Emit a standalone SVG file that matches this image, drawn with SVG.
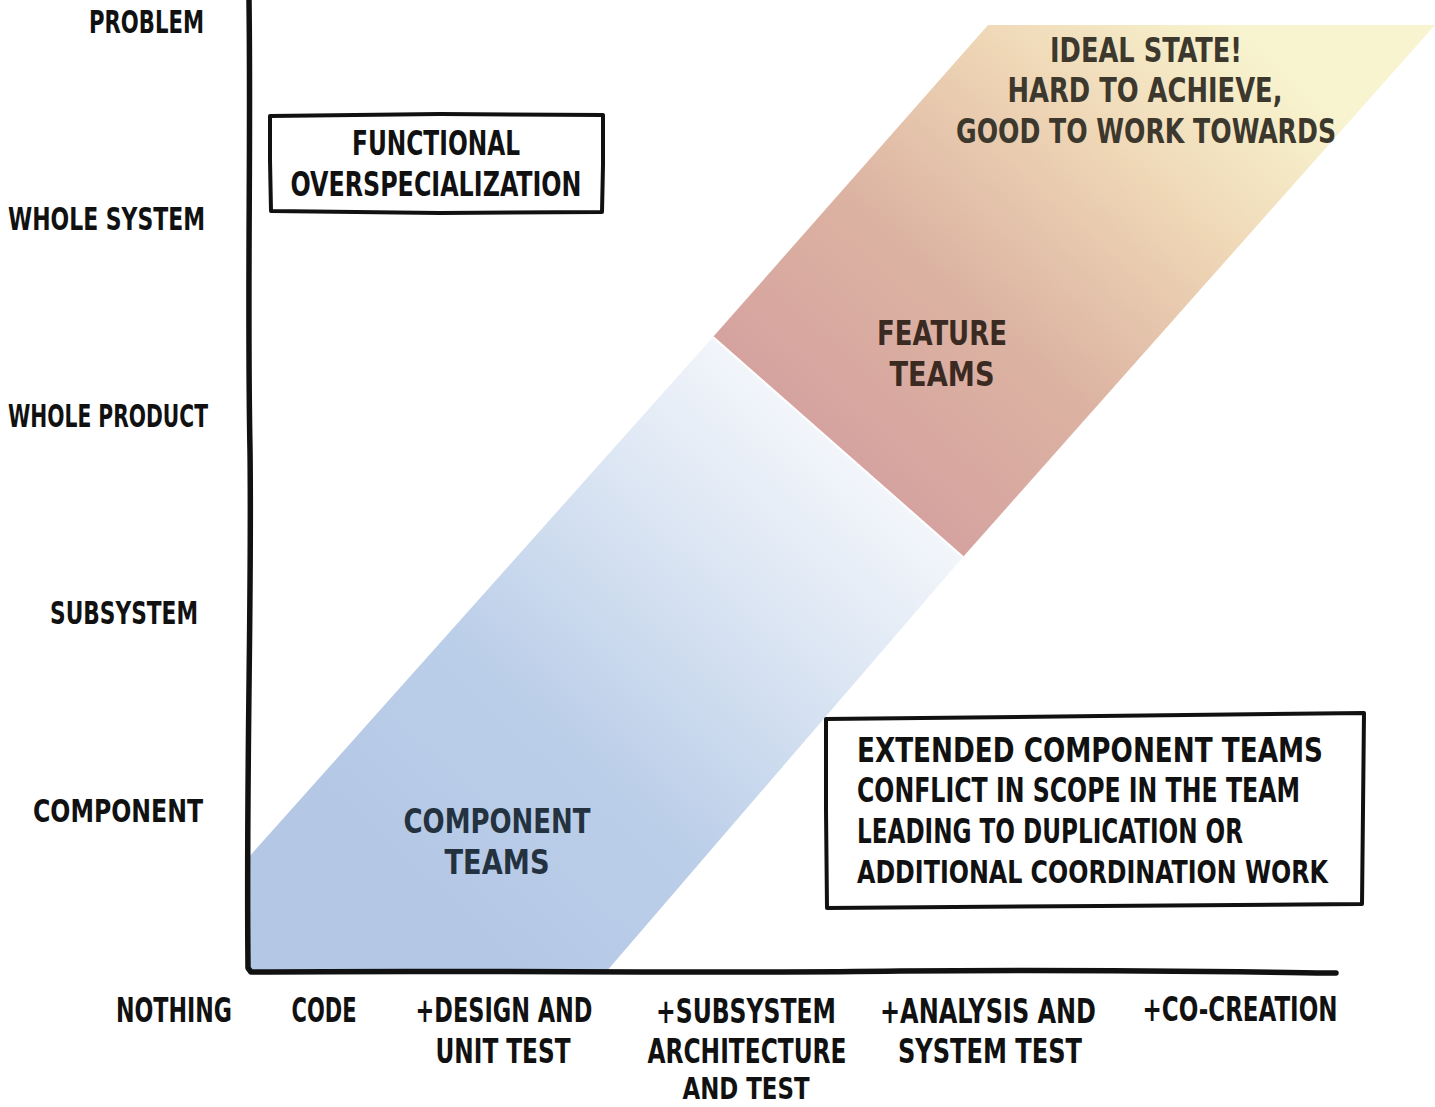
<svg xmlns="http://www.w3.org/2000/svg" width="1435" height="1107" viewBox="0 0 1435 1107">
<style>
.t{font-family:"Liberation Sans Narrow","DejaVu Sans Condensed","Liberation Sans",sans-serif;font-weight:bold;fill:#111;}
.y{font-size:32px;text-anchor:end;}
.x{font-size:33px;text-anchor:middle;}
.bx{font-size:33px;}
.c{text-anchor:middle;}
.box{fill:#fff;stroke:#111;stroke-width:4;stroke-linejoin:round;}
.ax{fill:none;stroke:#111;stroke-width:5.5;stroke-linecap:round;stroke-linejoin:round;}
</style>
<defs>
<linearGradient id="gBlue" gradientUnits="userSpaceOnUse" x1="430" y1="900" x2="850" y2="440">
<stop offset="0" stop-color="#b4c8e6"/>
<stop offset="0.35" stop-color="#bccfe9"/>
<stop offset="0.7" stop-color="#dbe5f3"/>
<stop offset="1" stop-color="#f4f7fb"/>
</linearGradient>
<linearGradient id="gWarm" gradientUnits="userSpaceOnUse" x1="840" y1="460" x2="1230" y2="20">
<stop offset="0" stop-color="#d5a29f"/>
<stop offset="0.35" stop-color="#dcb3a2"/>
<stop offset="0.7" stop-color="#efd7b6"/>
<stop offset="1" stop-color="#f8f4cf"/>
</linearGradient>
</defs>
<rect width="1435" height="1107" fill="#fff"/>

<g id="band-component">
<polygon points="248,858 713,337 963,557 606,972 248,972" fill="url(#gBlue)"/>
</g>
<g id="band-feature">
<polygon points="713,337 988,25 1435,25 963,557" fill="url(#gWarm)"/>
<line x1="713" y1="337" x2="963" y2="557" stroke="#fff" stroke-width="2"/>
</g>

<g id="connectors">
<path class="ax" d="M249,0 C251,150 247,300 250,450 C252,600 246,760 248,968 L251,972 C500,970 700,974 900,971 C1100,969 1250,972 1336,973"/>
</g>

<g id="y-labels">
<text class="t y" x="204" y="33" textLength="115" lengthAdjust="spacingAndGlyphs">PROBLEM</text>
<text class="t y" x="205" y="230" textLength="197" lengthAdjust="spacingAndGlyphs">WHOLE SYSTEM</text>
<text class="t y" x="208" y="427" textLength="200" lengthAdjust="spacingAndGlyphs">WHOLE PRODUCT</text>
<text class="t y" x="198" y="624" textLength="148" lengthAdjust="spacingAndGlyphs">SUBSYSTEM</text>
<text class="t y" x="203" y="822" textLength="170" lengthAdjust="spacingAndGlyphs">COMPONENT</text>
</g>

<g id="x-labels">
<text class="t x" x="174" y="1022" textLength="116" lengthAdjust="spacingAndGlyphs">NOTHING</text>
<text class="t x" x="324" y="1022" textLength="65" lengthAdjust="spacingAndGlyphs">CODE</text>
<text class="t x" x="504" y="1022" textLength="177" lengthAdjust="spacingAndGlyphs">+DESIGN AND</text>
<text class="t x" x="503" y="1063" textLength="135" lengthAdjust="spacingAndGlyphs">UNIT TEST</text>
<text class="t x" x="746" y="1023" textLength="180" lengthAdjust="spacingAndGlyphs">+SUBSYSTEM</text>
<text class="t x" x="747" y="1063" textLength="199" lengthAdjust="spacingAndGlyphs">ARCHITECTURE</text>
<text class="t x" x="746" y="1099" style="font-size:31px" textLength="127" lengthAdjust="spacingAndGlyphs">AND TEST</text>
<text class="t x" x="988" y="1023" textLength="216" lengthAdjust="spacingAndGlyphs">+ANALYSIS AND</text>
<text class="t x" x="990" y="1063" textLength="184" lengthAdjust="spacingAndGlyphs">SYSTEM TEST</text>
<text class="t x" x="1240" y="1021" textLength="195" lengthAdjust="spacingAndGlyphs">+CO-CREATION</text>
</g>

<g id="box-functional">
<path class="box" d="M270,116 L440,114 L603,115 L603,165 L602,212 L440,213 L271,211 L270,160 Z"/>
<text class="t bx c" x="436" y="155" textLength="168" lengthAdjust="spacingAndGlyphs">FUNCTIONAL</text>
<text class="t bx c" x="436" y="196" textLength="291" lengthAdjust="spacingAndGlyphs">OVERSPECIALIZATION</text>
</g>

<g id="box-extended">
<path class="box" d="M826,719 L1100,716 L1364,713 L1363,810 L1362,904 L1100,906 L827,908 L826,810 Z"/>
<text class="t bx" x="857" y="762" textLength="466" lengthAdjust="spacingAndGlyphs">EXTENDED COMPONENT TEAMS</text>
<text class="t bx" x="857" y="802" textLength="443" lengthAdjust="spacingAndGlyphs">CONFLICT IN SCOPE IN THE TEAM</text>
<text class="t bx" x="857" y="843" textLength="386" lengthAdjust="spacingAndGlyphs">LEADING TO DUPLICATION OR</text>
<text class="t bx" x="857" y="883" style="font-size:32px" textLength="471" lengthAdjust="spacingAndGlyphs">ADDITIONAL COORDINATION WORK</text>
</g>

<g id="label-component-teams">
<text class="t bx c" x="497" y="833" style="fill:#243240" textLength="187" lengthAdjust="spacingAndGlyphs">COMPONENT</text>
<text class="t bx c" x="497" y="874" style="fill:#243240" textLength="105" lengthAdjust="spacingAndGlyphs">TEAMS</text>
</g>

<g id="label-feature-teams">
<text class="t bx c" x="942" y="345" style="fill:#3b2a22" textLength="130" lengthAdjust="spacingAndGlyphs">FEATURE</text>
<text class="t bx c" x="942" y="386" style="fill:#3b2a22" textLength="105" lengthAdjust="spacingAndGlyphs">TEAMS</text>
</g>

<g id="label-ideal">
<text class="t bx c" x="1146" y="62" style="fill:#3d382d" textLength="192" lengthAdjust="spacingAndGlyphs">IDEAL STATE!</text>
<text class="t bx c" x="1145" y="102" style="fill:#3d382d" textLength="275" lengthAdjust="spacingAndGlyphs">HARD TO ACHIEVE,</text>
<text class="t bx c" x="1146" y="143" style="fill:#3d382d" textLength="380" lengthAdjust="spacingAndGlyphs">GOOD TO WORK TOWARDS</text>
</g>
</svg>
